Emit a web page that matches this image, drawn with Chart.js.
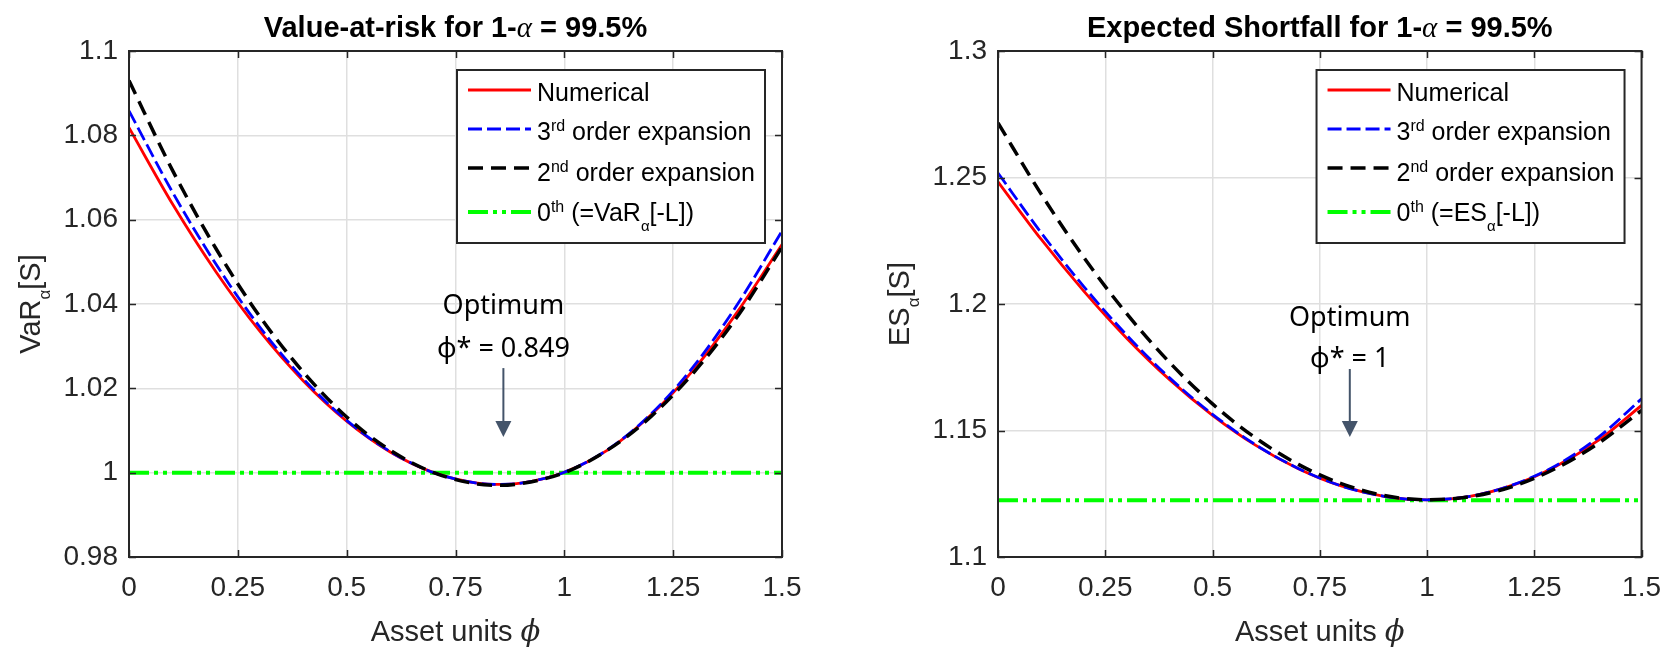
<!DOCTYPE html>
<html>
<head>
<meta charset="utf-8">
<script src="https://cdn.jsdelivr.net/npm/chart.js@4.4.0/dist/chart.umd.min.js"></script>
<style>
html,body{margin:0;padding:0;background:#fff;width:1675px;height:647px;overflow:hidden}
canvas{position:absolute;top:0}
#c1{left:0}
#c2{left:837px}
</style>
</head>
<body>
<canvas id="c1" width="837" height="647"></canvas>
<canvas id="c2" width="838" height="647"></canvas>
<script>
// ---------- data ----------
const xTickValues = [0, 0.25, 0.5, 0.75, 1, 1.25, 1.5];
const xTickLabels = ['0', '0.25', '0.5', '0.75', '1', '1.25', '1.5'];
const varTickValues = [0.98, 1, 1.02, 1.04, 1.06, 1.08, 1.1];
const varTickLabels = ['0.98', '1', '1.02', '1.04', '1.06', '1.08', '1.1'];
const esTickValues = [1.1, 1.15, 1.2, 1.25, 1.3];
const esTickLabels = ['1.1', '1.15', '1.2', '1.25', '1.3'];

const phiVaR = [0, 0.1, 0.2, 0.3, 0.4, 0.5, 0.6, 0.7, 0.8, 0.85, 0.9, 1.0, 1.1, 1.2, 1.3, 1.4, 1.5];
const varNumerical = [1.0818, 1.0637, 1.0476, 1.0336, 1.0218, 1.0122, 1.0049, 1.0000, 0.9975, 0.9972, 0.9975, 1.0001, 1.0054, 1.0138, 1.0248, 1.0385, 1.0541];
const varThird     = [1.0858, 1.0665, 1.0494, 1.0346, 1.0223, 1.0124, 1.0050, 1.0000, 0.9975, 0.9972, 0.9975, 1.0001, 1.0055, 1.0140, 1.0256, 1.0403, 1.0573];
const varSecond    = [1.0930, 1.0717, 1.0531, 1.0371, 1.0239, 1.0132, 1.0053, 1.0000, 0.9973, 0.9970, 0.9974, 1.0000, 1.0054, 1.0134, 1.0241, 1.0374, 1.0535];
const phiFlat = [0, 1.5];
const varZeroth = [1.0, 1.0];

const phiES = [0, 0.1, 0.2, 0.3, 0.4, 0.5, 0.6, 0.7, 0.8, 0.9, 1.0, 1.1, 1.2, 1.3, 1.4, 1.5];
const esNumerical = [1.2483, 1.2257, 1.2051, 1.1865, 1.1701, 1.1560, 1.1442, 1.1349, 1.1281, 1.1240, 1.1226, 1.1240, 1.1284, 1.1358, 1.1462, 1.1599];
const esThird     = [1.2518, 1.2283, 1.2069, 1.1877, 1.1708, 1.1564, 1.1444, 1.1350, 1.1281, 1.1240, 1.1226, 1.1240, 1.1285, 1.1361, 1.1474, 1.1625];
const esSecond    = [1.2716, 1.2436, 1.2184, 1.1962, 1.1769, 1.1605, 1.1471, 1.1366, 1.1290, 1.1243, 1.1226, 1.1238, 1.1279, 1.1350, 1.1450, 1.1579];
const esZeroth = [1.1224, 1.1224];

// ---------- styles ----------
const SANS = '"Liberation Sans", Arial, sans-serif';
const TXT = '#262626';
const seriesStyle = {
  num:    { borderColor: '#ff0000', borderWidth: 2.8, borderDash: [], order: 2 },
  third:  { borderColor: '#0000ff', borderWidth: 2.8, borderDash: [14, 5], order: 1 },
  second: { borderColor: '#000000', borderWidth: 3.5, borderDash: [15, 8], order: 0 },
  zeroth: { borderColor: '#00ff00', borderWidth: 4, borderDash: [20, 5, 4, 5, 4, 5], order: 3 }
};

function pts(xs, ys) { return xs.map((v, i) => ({ x: v, y: ys[i] })); }
function ds(label, xs, ys, st) {
  return Object.assign({ label, data: pts(xs, ys), fill: false, pointRadius: 0,
    cubicInterpolationMode: 'monotone', borderCapStyle: 'butt' }, st);
}

function drawSegs(ctx, segs, x, y, align, color) {
  let total = 0;
  segs.forEach(s => { ctx.font = s.f; s.w = ctx.measureText(s.t).width; total += s.w; });
  let cx = align === 'center' ? x - total / 2 : x;
  ctx.textAlign = 'left';
  ctx.textBaseline = 'alphabetic';
  ctx.fillStyle = color;
  segs.forEach(s => { ctx.font = s.f; ctx.fillText(s.t, cx, y + (s.dy || 0)); cx += s.w; });
}

const F = {
  leg: '25px ' + SANS,
  sup: '16px ' + SANS,
  sub: '15px ' + SANS,
  lab: '29px ' + SANS,
  labSub: '17px ' + SANS,
  title: 'bold 29px ' + SANS,
  titleGreek: 'italic 29px "Liberation Serif", serif',
  phi: 'italic 29px "DejaVu Serif", serif',
  ann: '27px "Noto Sans", "Open Sans", sans-serif'
};

function makeDeco(cfg) {
  return {
    id: 'deco',
    afterDatasetsDraw(chart) {
      const { ctx, chartArea: a, scales: { x, y } } = chart;
      ctx.save();
      // inner tick marks
      ctx.strokeStyle = TXT; ctx.lineWidth = 1.5; ctx.setLineDash([]);
      ctx.beginPath();
      xTickValues.forEach(v => {
        const px = Math.round(x.getPixelForValue(v)) + 0.5;
        ctx.moveTo(px, a.bottom); ctx.lineTo(px, a.bottom - 7);
        ctx.moveTo(px, a.top); ctx.lineTo(px, a.top + 7);
      });
      cfg.yTicks.forEach(v => {
        const py = Math.round(y.getPixelForValue(v)) + 0.5;
        ctx.moveTo(a.left, py); ctx.lineTo(a.left + 7, py);
        ctx.moveTo(a.right, py); ctx.lineTo(a.right - 7, py);
      });
      ctx.stroke();
      // frame
      ctx.lineWidth = 2;
      ctx.strokeRect(a.left, a.top, a.right - a.left, a.bottom - a.top);

      // legend
      const w = 308, h = 173, lr = a.right - 17, ll = lr - w, lt = a.top + 19;
      ctx.fillStyle = '#fff'; ctx.fillRect(ll, lt, w, h);
      ctx.strokeStyle = TXT; ctx.lineWidth = 2; ctx.strokeRect(ll, lt, w, h);
      const lineDY = [20, 59, 98, 142];
      const baseDY = [31, 70, 111, 151];
      cfg.legendRows.forEach((row, i) => {
        const d = chart.data.datasets[row.ds];
        ctx.save();
        ctx.strokeStyle = d.borderColor; ctx.lineWidth = d.borderWidth;
        ctx.setLineDash(d.borderDash || []);
        ctx.beginPath(); ctx.moveTo(ll + 11, lt + lineDY[i]); ctx.lineTo(ll + 74, lt + lineDY[i]); ctx.stroke();
        ctx.restore();
        drawSegs(ctx, row.segs, ll + 80, lt + baseDY[i], 'left', '#000');
      });

      // annotation
      const an = cfg.annotation;
      const ax = x.getPixelForValue(an.x);
      ctx.font = F.ann; ctx.fillStyle = '#000'; ctx.textAlign = 'center'; ctx.textBaseline = 'middle';
      ctx.fillText('Optimum', ax, y.getPixelForValue(an.optY));
      ctx.fillText(an.label, ax, y.getPixelForValue(an.labY));
      const at = y.getPixelForValue(an.top), tip = y.getPixelForValue(an.tip);
      ctx.strokeStyle = '#44546a'; ctx.fillStyle = '#44546a'; ctx.lineWidth = 2;
      ctx.beginPath(); ctx.moveTo(ax, at); ctx.lineTo(ax, tip - 14); ctx.stroke();
      ctx.beginPath(); ctx.moveTo(ax - 8, tip - 16); ctx.lineTo(ax + 8, tip - 16); ctx.lineTo(ax, tip); ctx.closePath(); ctx.fill();

      // title
      const cx = (a.left + a.right) / 2;
      drawSegs(ctx, cfg.title, cx, 37, 'center', '#000');
      // x label
      drawSegs(ctx, [{ t: 'Asset units ', f: F.lab }, { t: 'ϕ', f: F.phi }], cx, 641, 'center', TXT);
      // y label
      ctx.save();
      ctx.translate(a.left - 89, (a.top + a.bottom) / 2);
      ctx.rotate(-Math.PI / 2);
      drawSegs(ctx, cfg.ylabel, 0, 0, 'center', TXT);
      ctx.restore();
      ctx.restore();
    }
  };
}

function makeChart(canvasId, cfg) {
  const tickFont = { family: SANS, size: 28 };
  return new Chart(document.getElementById(canvasId), {
    type: 'line',
    data: { datasets: cfg.datasets },
    options: {
      responsive: false, animation: false, devicePixelRatio: 1, events: [],
      layout: { padding: { left: 0, top: 51, right: cfg.padRight, bottom: 0 } },
      plugins: { legend: { display: false }, tooltip: { enabled: false }, title: { display: false } },
      scales: {
        x: {
          type: 'linear', min: 0, max: 1.5,
          afterBuildTicks: s => { s.ticks = xTickValues.map(v => ({ value: v })); },
          afterFit: s => { s.height = 90; },
          grid: { color: '#dfdfdf', lineWidth: 1.5, drawTicks: false },
          border: { display: false },
          ticks: { autoSkip: false, maxRotation: 0, padding: 14, color: TXT, font: tickFont,
                   callback: (v, i) => xTickLabels[i] }
        },
        y: {
          type: 'linear', min: cfg.yMin, max: cfg.yMax,
          afterBuildTicks: s => { s.ticks = cfg.yTicks.map(v => ({ value: v })); },
          afterFit: s => { s.width = cfg.yWidth; },
          grid: { color: '#dfdfdf', lineWidth: 1.5, drawTicks: false },
          border: { display: false },
          ticks: { autoSkip: false, padding: 11, color: TXT, font: tickFont,
                   callback: (v, i) => cfg.yLabels[i] }
        }
      }
    },
    plugins: [makeDeco(cfg)]
  });
}

const legendCommon = (zerothName) => [
  { ds: 0, segs: [{ t: 'Numerical', f: F.leg }] },
  { ds: 1, segs: [{ t: '3', f: F.leg }, { t: 'rd', f: F.sup, dy: -9 }, { t: ' order expansion', f: F.leg }] },
  { ds: 2, segs: [{ t: '2', f: F.leg }, { t: 'nd', f: F.sup, dy: -9 }, { t: ' order expansion', f: F.leg }] },
  { ds: 3, segs: [{ t: '0', f: F.leg }, { t: 'th', f: F.sup, dy: -9 }, { t: ' (=' + zerothName, f: F.leg },
                  { t: 'α', f: F.sub, dy: 10 }, { t: '[-L])', f: F.leg }] }
];

makeChart('c1', {
  padRight: 55, yWidth: 129, yMin: 0.98, yMax: 1.1,
  yTicks: varTickValues, yLabels: varTickLabels,
  datasets: [
    ds('Numerical', phiVaR, varNumerical, seriesStyle.num),
    ds('3rd order expansion', phiVaR, varThird, seriesStyle.third),
    ds('2nd order expansion', phiVaR, varSecond, seriesStyle.second),
    ds('0th (=VaR[-L])', phiFlat, varZeroth, seriesStyle.zeroth)
  ],
  legendRows: legendCommon('VaR'),
  title: [{ t: 'Value-at-risk for 1-', f: F.title }, { t: 'α', f: F.titleGreek }, { t: ' = 99.5%', f: F.title }],
  ylabel: [{ t: 'VaR', f: F.lab }, { t: 'α', f: F.labSub, dy: 10 }, { t: '[S]', f: F.lab }],
  annotation: { x: 0.860, optY: 1.0395, labY: 1.0293, label: 'ϕ* = 0.849', top: 1.0248, tip: 1.00846 }
});

makeChart('c2', {
  padRight: 23, yWidth: 161, yMin: 1.1, yMax: 1.3,
  yTicks: esTickValues, yLabels: esTickLabels,
  datasets: [
    ds('Numerical', phiES, esNumerical, seriesStyle.num),
    ds('3rd order expansion', phiES, esThird, seriesStyle.third),
    ds('2nd order expansion', phiES, esSecond, seriesStyle.second),
    ds('0th (=ES[-L])', phiFlat, esZeroth, seriesStyle.zeroth)
  ],
  legendRows: legendCommon('ES'),
  title: [{ t: 'Expected Shortfall for 1-', f: F.title }, { t: 'α', f: F.titleGreek }, { t: ' = 99.5%', f: F.title }],
  ylabel: [{ t: 'ES', f: F.lab }, { t: 'α', f: F.labSub, dy: 10 }, { t: '[S]', f: F.lab }],
  annotation: { x: 0.820, optY: 1.1945, labY: 1.1783, label: 'ϕ* = 1', top: 1.1743, tip: 1.1474 }
});
</script>
</body>
</html>
